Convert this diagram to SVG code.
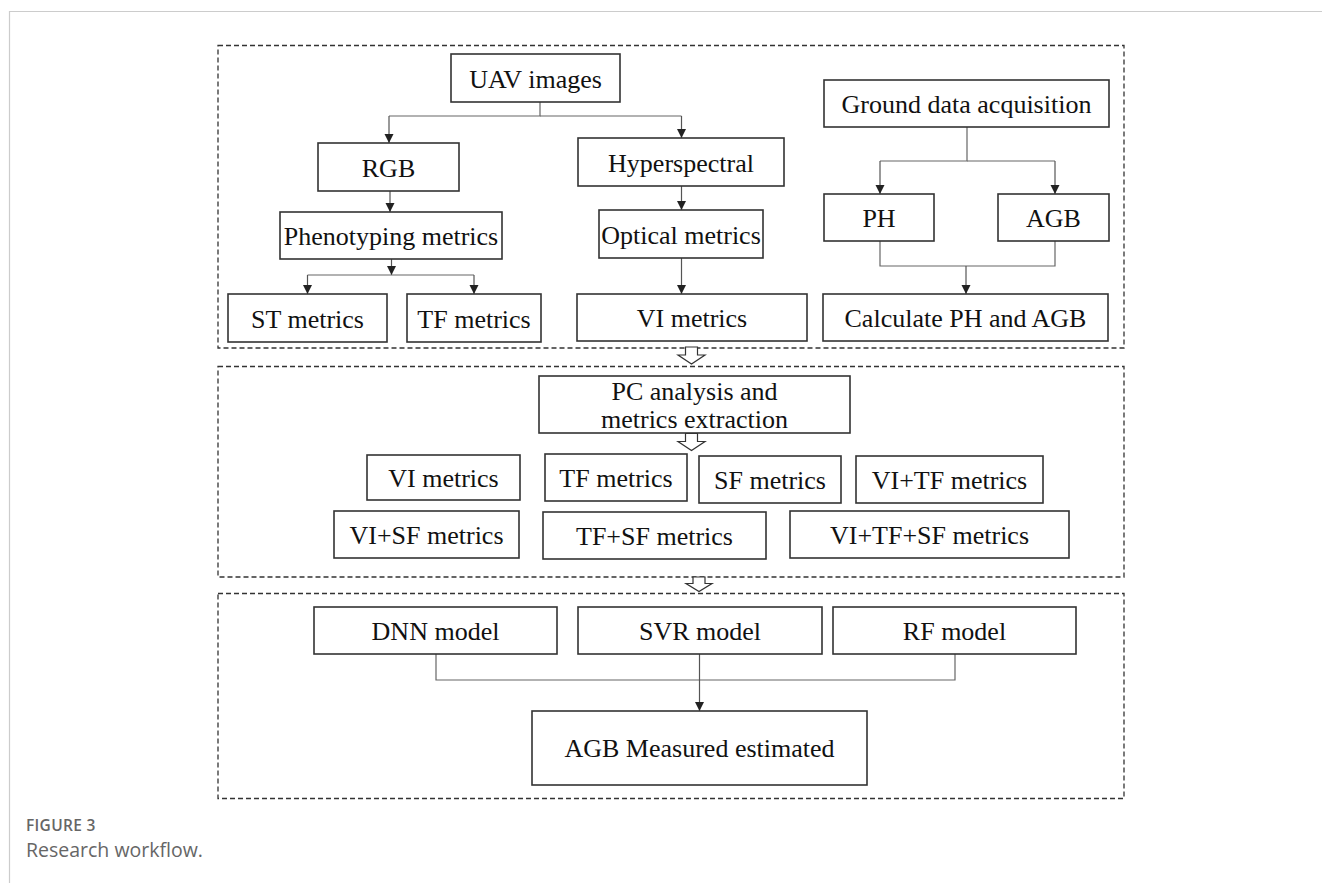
<svg xmlns="http://www.w3.org/2000/svg" width="1322" height="883" viewBox="0 0 1322 883">
<style>
.bx{fill:#fff;stroke:#333;stroke-width:1.6}
.t{font-family:"Liberation Serif","Times New Roman",serif;font-size:26px;fill:#111;text-anchor:middle}
.ln{fill:none;stroke:#666;stroke-width:1.2}
.ar{fill:none;stroke:#555;stroke-width:1.2;marker-end:url(#ah)}
.dash{fill:none;stroke:#333;stroke-width:1.3;stroke-dasharray:5 3}
.ho{fill:#fff;stroke:#333;stroke-width:1.2}
.cap1{font-family:"Open Sans","Liberation Sans",sans-serif;font-size:15.5px;font-weight:600;fill:#666;letter-spacing:0.3px}
.cap2{font-family:"Open Sans","Liberation Sans",sans-serif;font-size:19.5px;fill:#666}
</style>
<defs>
<marker id="ah" markerUnits="userSpaceOnUse" markerWidth="10" markerHeight="10" refX="9" refY="4.5" orient="auto">
<path d="M0,0 L9,4.5 L0,9 z" fill="#222"/>
</marker>
</defs>
<rect width="1322" height="883" fill="#fff"/>
<path d="M9.5,883 V11.5 H1322" fill="none" stroke="#ccc" stroke-width="1.2"/>

<g id="sections">
<rect class="dash" x="218" y="45.5" width="906" height="302.5"/>
<rect class="dash" x="218" y="366.5" width="906" height="210.5"/>
<rect class="dash" x="218" y="593.5" width="906" height="205"/>
</g>

<g id="connectors">
<path class="ln" d="M540,102 V116 H389"/>
<path class="ar" d="M389,116 V143"/>
<path class="ln" d="M540,116 H681.5"/>
<path class="ar" d="M681.5,116 V138"/>
<path class="ar" d="M390,191 V212"/>
<path class="ar" d="M391.5,259 V275"/>
<path class="ln" d="M307.5,275 H474"/>
<path class="ar" d="M307.5,275 V294"/>
<path class="ar" d="M474,275 V294"/>
<path class="ar" d="M681.5,186 V210"/>
<path class="ar" d="M681.5,258 V294"/>
<path class="ln" d="M967,127 V161 H880"/>
<path class="ln" d="M967,161 H1055"/>
<path class="ar" d="M880,161 V194"/>
<path class="ar" d="M1055,161 V194"/>
<path class="ln" d="M880,241 V266 H1055 V241"/>
<path class="ar" d="M966,266 V294"/>
<path class="ln" d="M436,654 V680 H955 V654"/>
<path class="ar" d="M699.5,654 V711"/>
<polygon class="ho" points="685.5,347 697.5,347 697.5,355 705,355 691.5,364 678,355 685.5,355"/>
<polygon class="ho" points="685.5,433.5 697.5,433.5 697.5,441.5 705,441.5 691.5,450.5 678,441.5 685.5,441.5"/>
<polygon class="ho" points="693,577 705,577 705,583.5 712,583.5 699,591.5 686,583.5 693,583.5"/>
</g>

<g id="n-uav"><rect class="bx" x="451" y="54" width="169" height="48"/><text class="t" x="535.5" y="87.5">UAV images</text></g>
<g id="n-rgb"><rect class="bx" x="318" y="143" width="141" height="48"/><text class="t" x="388.5" y="176.5">RGB</text></g>
<g id="n-pheno"><rect class="bx" x="280" y="212" width="222" height="47"/><text class="t" x="391" y="245">Phenotyping metrics</text></g>
<g id="n-st"><rect class="bx" x="228" y="294" width="159" height="48"/><text class="t" x="307.5" y="327.5">ST metrics</text></g>
<g id="n-tf1"><rect class="bx" x="407" y="294" width="134" height="48"/><text class="t" x="474" y="327.5">TF metrics</text></g>
<g id="n-hyper"><rect class="bx" x="578" y="138" width="206" height="48"/><text class="t" x="681" y="171.5">Hyperspectral</text></g>
<g id="n-optical"><rect class="bx" x="599" y="210" width="164" height="48"/><text class="t" x="681" y="243.5">Optical metrics</text></g>
<g id="n-vi1"><rect class="bx" x="577" y="294" width="230" height="47"/><text class="t" x="692" y="327">VI metrics</text></g>
<g id="n-ground"><rect class="bx" x="824" y="80" width="285" height="47"/><text class="t" x="966.5" y="113">Ground data acquisition</text></g>
<g id="n-ph"><rect class="bx" x="824" y="194" width="110" height="47"/><text class="t" x="879" y="227">PH</text></g>
<g id="n-agb"><rect class="bx" x="998" y="194" width="111" height="47"/><text class="t" x="1053.5" y="227">AGB</text></g>
<g id="n-calc"><rect class="bx" x="823" y="294" width="285" height="47"/><text class="t" x="965.5" y="326.5">Calculate PH and AGB</text></g>

<g id="n-pc"><rect class="bx" x="539" y="376" width="311" height="57"/><text class="t" x="694.5" y="400">PC analysis and</text><text class="t" x="694.5" y="428">metrics extraction</text></g>
<g id="n-vi2"><rect class="bx" x="367" y="455" width="153" height="45"/><text class="t" x="443.5" y="487">VI metrics</text></g>
<g id="n-tf2"><rect class="bx" x="545" y="454" width="142" height="47"/><text class="t" x="616" y="487">TF metrics</text></g>
<g id="n-sf"><rect class="bx" x="699" y="456" width="142" height="47"/><text class="t" x="770" y="489">SF metrics</text></g>
<g id="n-vitf"><rect class="bx" x="856" y="456" width="187" height="47"/><text class="t" x="949.5" y="489">VI+TF metrics</text></g>
<g id="n-visf"><rect class="bx" x="334" y="511" width="185" height="47"/><text class="t" x="426.5" y="543.5">VI+SF metrics</text></g>
<g id="n-tfsf"><rect class="bx" x="543" y="512" width="223" height="47"/><text class="t" x="654.5" y="545">TF+SF metrics</text></g>
<g id="n-vitfsf"><rect class="bx" x="790" y="511" width="279" height="47"/><text class="t" x="929.5" y="544">VI+TF+SF metrics</text></g>

<g id="n-dnn"><rect class="bx" x="314" y="607" width="243" height="47"/><text class="t" x="435.5" y="640">DNN model</text></g>
<g id="n-svr"><rect class="bx" x="578" y="607" width="244" height="47"/><text class="t" x="700" y="640">SVR model</text></g>
<g id="n-rf"><rect class="bx" x="833" y="607" width="243" height="47"/><text class="t" x="954.5" y="640">RF model</text></g>
<g id="n-agbm"><rect class="bx" x="532" y="711" width="335" height="74"/><text class="t" x="699.5" y="757">AGB Measured estimated</text></g>

<g id="caption">
<text class="cap1" x="26" y="831">FIGURE 3</text>
<text class="cap2" x="26" y="857">Research workflow.</text>
</g>
</svg>
